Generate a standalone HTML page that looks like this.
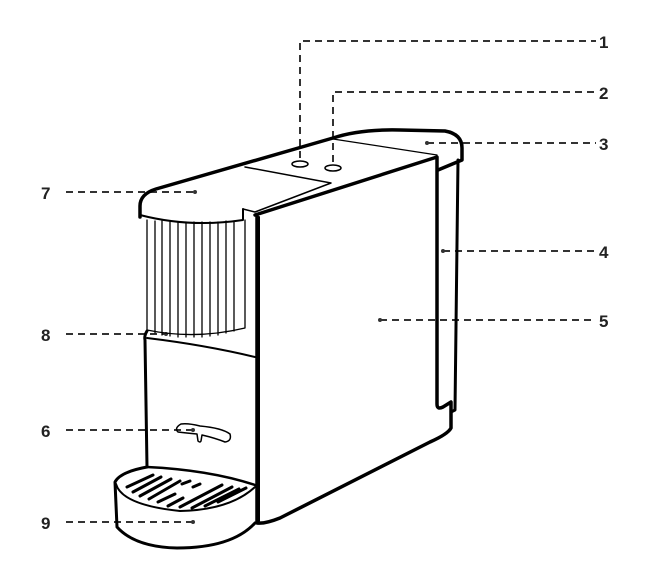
<!DOCTYPE html>
<html><head><style>
html,body{margin:0;padding:0;background:#fff;}
svg{display:block;}
text{font-family:"Liberation Sans",sans-serif;font-weight:bold;font-size:17px;fill:#222;}
</style></head><body>
<svg width="659" height="579" viewBox="0 0 659 579" xmlns="http://www.w3.org/2000/svg">
<g fill="none" stroke="#333" stroke-width="2" stroke-dasharray="7,5">
<polyline points="300,158 300,41 596,41"/>
<polyline points="333,162 333,92 596,92"/>
<line x1="427" y1="143" x2="596" y2="143"/>
<line x1="443" y1="251" x2="596" y2="251"/>
<line x1="380" y1="320" x2="596" y2="320"/>
<line x1="66" y1="192" x2="195" y2="192"/>
<line x1="66" y1="334" x2="166" y2="334"/>
<line x1="66" y1="430" x2="193" y2="430"/>
<line x1="66" y1="522" x2="193" y2="522"/>
</g>
<g fill="#333">
<circle cx="427" cy="143" r="2"/><circle cx="443" cy="251" r="2"/><circle cx="380" cy="320" r="2"/>
<circle cx="195" cy="192" r="2"/><circle cx="166" cy="334" r="2"/><circle cx="193" cy="430" r="2"/><circle cx="193" cy="522" r="2"/>
</g>
<text x="599" y="48">1</text><text x="599" y="99">2</text><text x="599" y="150">3</text>
<text x="599" y="258">4</text><text x="599" y="327">5</text>
<text x="41" y="199">7</text><text x="41" y="341">8</text><text x="41" y="437">6</text><text x="41" y="529">9</text>

<g fill="none" stroke="#000" stroke-linejoin="round" stroke-linecap="round">
<!-- capsule ribs -->
<g stroke-width="1.3">
<path d="M147,220 L147,330 Q195,340 245,328 L245,220"/>
<line x1="155" y1="221" x2="155" y2="333"/><line x1="162" y1="221" x2="162" y2="335"/>
<line x1="170" y1="222" x2="170" y2="336"/><line x1="178" y1="222" x2="178" y2="337"/>
<line x1="186" y1="222" x2="186" y2="337"/><line x1="194" y1="222" x2="194" y2="337"/>
<line x1="202" y1="222" x2="202" y2="337"/><line x1="210" y1="222" x2="210" y2="336"/>
<line x1="218" y1="222" x2="218" y2="335"/><line x1="226" y1="221" x2="226" y2="333"/>
<line x1="234" y1="221" x2="234" y2="331"/>
</g>
<!-- top cap -->
<path stroke-width="3.5" d="M140,217 L140,206 Q140,194 156,189 L333,138 Q360,129 400,130 L445,131 Q462,134 462,148 L462,160 L438,170"/>
<path stroke-width="2" d="M140,215 Q190,228 243,220 L243,209"/>
<path stroke-width="1.5" d="M245,167 L331,183 L255,212 M243,209 L255,212"/>
<path stroke-width="1.2" d="M333,139 L437,155"/>
<!-- buttons -->
<ellipse cx="300" cy="164" rx="8" ry="3" stroke-width="1.5"/>
<ellipse cx="333" cy="168" rx="8" ry="3" stroke-width="1.5"/>
<!-- front panel -->
<path stroke-width="3.5" d="M255,215 L437,157 L437,404 Q437,410 443,407 L451,402 L451,428 Q448,434 430,442 L280,518 Q265,524 257,523 L257,215"/>
<line x1="259" y1="217" x2="259" y2="521" stroke-width="2"/>
<path stroke-width="3" d="M458,160 L455,410 L451,412"/>
<!-- lower left body -->
<path stroke-width="3" d="M147,331 Q144,336 145,340 L147,467"/>
<path stroke-width="2" d="M147,338 Q205,345 255,357"/>
<!-- nozzle -->
<path stroke-width="1.5" d="M181,424 Q174,428 178,432 Q186,433 197,434 L198,441 Q200,443 201,441 L202,435 Q215,438 225,442 Q232,441 230,434 Q222,428 200,426 Q188,423 181,424 Z"/>
<!-- drip tray -->
<path stroke-width="3" d="M147,467 Q120,472 115,482 L117,527 Q135,547 177,548 Q232,548 255,523"/>
<path stroke-width="2.5" d="M147,467 Q210,470 255,485"/>
<path stroke-width="2" d="M116,484 Q122,505 180,511 Q230,510 255,487"/>
<g stroke-width="3">
<line x1="127" y1="487" x2="153" y2="475"/><line x1="133" y1="492" x2="161" y2="477"/>
<line x1="140" y1="496" x2="171" y2="479"/><line x1="149" y1="499" x2="180" y2="481"/>
<line x1="158" y1="502" x2="175" y2="494"/><line x1="168" y1="506" x2="183" y2="498"/>
<line x1="180" y1="507" x2="222" y2="485"/><line x1="192" y1="508" x2="232" y2="487"/>
<line x1="205" y1="506" x2="239" y2="489"/><line x1="218" y1="502" x2="246" y2="488"/>
<line x1="182" y1="484" x2="190" y2="481"/><line x1="193" y1="487" x2="200" y2="484"/>
</g>
</g>
</svg>
</body></html>
